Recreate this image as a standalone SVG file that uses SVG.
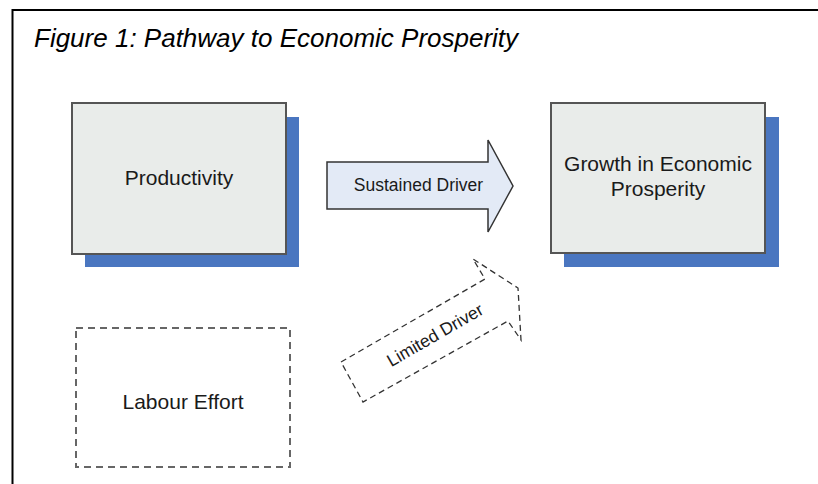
<svg xmlns="http://www.w3.org/2000/svg" width="818" height="484" viewBox="0 0 818 484">
<style>
text{font-family:"Liberation Sans",Arial,sans-serif;fill:#1a1a1a;text-anchor:middle}
.title{font-size:26px;font-style:italic;text-anchor:start;fill:#000}
.lbl{font-size:21px}
.arr{font-size:17.5px}
.shadow{fill:#4a76c0}
.box{fill:#e9ecea;stroke:#555;stroke-width:2}
.dbox{fill:#fff;stroke:#666;stroke-width:2;stroke-dasharray:7 5}
</style>
<rect width="818" height="484" fill="#fff"/>
<path d="M12.5 484 V10 H818" fill="none" stroke="#000" stroke-width="2"/>
<text class="title" x="34" y="47">Figure 1: Pathway to Economic Prosperity</text>
<g id="productivity">
<rect class="shadow" x="85" y="117" width="214" height="150"/>
<rect class="box" x="72" y="103" width="214" height="151"/>
<text class="lbl" x="179" y="185">Productivity</text>
</g>
<g id="growth">
<rect class="shadow" x="564" y="117" width="215" height="150"/>
<rect class="box" x="551" y="103" width="214" height="150"/>
<text class="lbl" x="658" y="171">Growth in Economic</text>
<text class="lbl" x="658" y="196">Prosperity</text>
</g>
<g id="labour">
<rect class="dbox" x="76" y="328" width="214" height="139"/>
<text class="lbl" x="183" y="409">Labour Effort</text>
</g>
<g id="connectors">
<g id="sustained">
<polygon points="327,162 488,162 488,140 513,186 488,232 488,209 327,209" fill="#e3eaf6" stroke="#333" stroke-width="1.5"/>
<text class="arr" x="418.5" y="191">Sustained Driver</text>
</g>
<g id="limited">
<polygon points="341,362 485,279 473,259 518,288 521,340 508,321 363,402" fill="#fff" stroke="#333" stroke-width="1.3" stroke-dasharray="6 4"/>
<text class="arr" transform="translate(435,335) rotate(-30)" x="0" y="6">Limited Driver</text>
</g>
</g>
</svg>
